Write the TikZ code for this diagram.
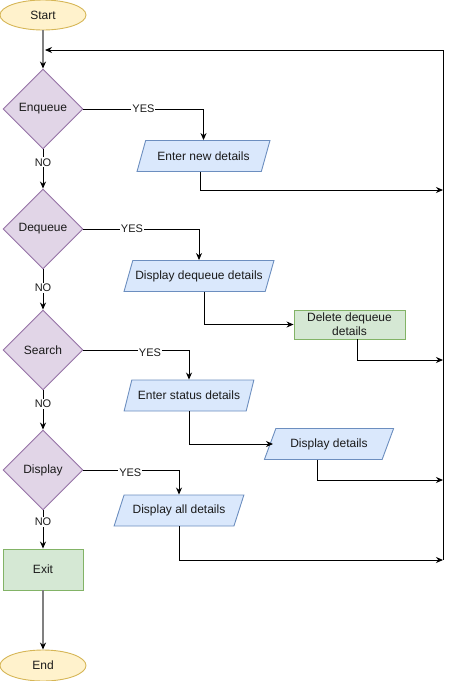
\documentclass[tikz,border=0pt]{standalone}
\usepackage{fontspec}
\setmainfont{Liberation Sans}
\usetikzlibrary{shapes.geometric,arrows.meta}

\definecolor{termfill}{HTML}{FFF2CC}
\definecolor{termline}{HTML}{D6B656}
\definecolor{decfill}{HTML}{E1D5E7}
\definecolor{decline}{HTML}{9673A6}
\definecolor{iofill}{HTML}{DAE8FC}
\definecolor{ioline}{HTML}{6C8EBF}
\definecolor{procfill}{HTML}{D5E8D4}
\definecolor{procline}{HTML}{82B366}
\definecolor{txt}{HTML}{1A1A1A}

\begin{document}
\begin{tikzpicture}[x=1pt,y=-1pt,line width=0.9pt,
  every node/.style={font=\fontsize{12}{14}\selectfont,text=txt},
  terminal/.style={ellipse,draw=termline,fill=termfill,minimum width=86pt,minimum height=30pt,inner sep=0pt},
  decision/.style={diamond,aspect=1,draw=decline,fill=decfill,minimum size=80pt,inner sep=0pt},
  io/.style={trapezium,trapezium left angle=57,trapezium right angle=123,trapezium stretches=true,
    draw=ioline,fill=iofill,minimum height=31pt,inner sep=1pt},
  process/.style={rectangle,draw=procline,fill=procfill,align=center,inner sep=1pt},
  flow/.style={-{Stealth[length=7pt,width=6pt]},black},
  grayflow/.style={draw=gray,line width=1.6pt,-{Stealth[length=7pt,width=6pt,black]}},
  lbl/.style={fill=white,inner sep=1pt,font=\fontsize{11}{13}\selectfont}]
  \useasboundingbox (0,0) rectangle (457,681);

  % main column
  \node[terminal] (start) at (43,15) {Start};
  \node[decision] (enq) at (43,109) {Enqueue};
  \node[decision] (deq) at (43,229) {Dequeue};
  \node[decision] (srch) at (43,350) {Search};
  \node[decision] (disp) at (43,470) {Display};
  \node[process,minimum width=80pt,minimum height=41pt] (exit) at (43,569.5) {Exit};
  \node[terminal,minimum height=31pt] (end) at (43,665.5) {End};

  % branches
  \node[io,minimum width=133pt] (newd) at (203.5,156) {Enter new details};
  \node[io,minimum width=150pt] (showdeq) at (199,276) {Display dequeue details};
  \node[process,minimum width=111pt,minimum height=29pt] (deldeq) at (349.5,324.5) {Delete dequeue\\details};
  \node[io,minimum width=130pt] (status) at (189,395.5) {Enter status details};
  \node[io,minimum width=130pt] (showd) at (329,444) {Display details};
  \node[io,minimum width=130pt] (showall) at (179,510.5) {Display all details};

  % return rail
  \coordinate (m1) at (443,190);
  \coordinate (m2) at (443,360);
  \coordinate (m3) at (443,480);
  \coordinate (m4) at (443,560);
  \coordinate (railtop) at (443,50);
  \coordinate (back) at (45,50);

  \draw[grayflow] (start) -- (enq);
  \draw[flow] (enq) -- node[lbl,pos=0.33] {NO} (deq);
  \draw[flow] (deq) -- node[lbl,pos=0.46] {NO} (srch);
  \draw[flow] (srch) -- node[lbl,pos=0.35] {NO} (disp);
  \draw[flow] (disp) -- node[lbl,pos=0.3] {NO} (exit);
  \draw[grayflow] (exit) -- (end);

  \draw[flow] (enq.east) -- node[lbl] {YES} (enq.east -| newd.north) -- (newd.north);
  \draw[flow] (deq.east) -- node[lbl,pos=0.42] {YES} (deq.east -| showdeq.north) -- (showdeq.north);
  \draw[flow] (srch.east) -- node[lbl,pos=0.63,yshift=-3pt] {YES} (srch.east -| status.north) -- (status.north);
  \draw[flow] (disp.east) -- node[lbl,pos=0.49,yshift=-3pt] {YES} (disp.east -| showall.north) -- (showall.north);

  \draw[flow] ([xshift=-3.5pt]newd.south) |- (m1);
  \draw[flow] ([xshift=5pt]showdeq.south) |- (deldeq.west);
  \draw[flow] ([xshift=7.5pt]deldeq.south) |- (m2);
  \draw[flow] (status.south) |- ([xshift=-56pt]showd.center);
  \draw[flow] ([xshift=-12pt]showd.south) |- (m3);
  \draw[flow] (showall.south) |- (m4);
  \draw[flow] (m4) -- (railtop) -- (back);
\end{tikzpicture}
\end{document}
